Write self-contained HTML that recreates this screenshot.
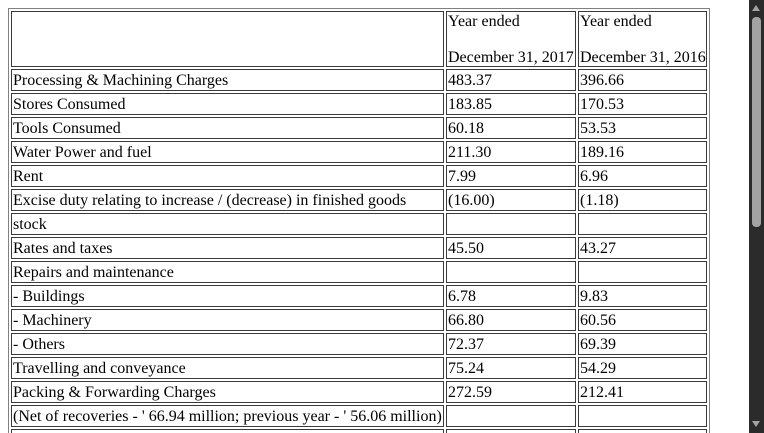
<!DOCTYPE html>
<html><head><meta charset="utf-8"><style>
html,body{margin:0;padding:0;width:764px;height:433px;overflow:hidden;background:#fff;}
body{position:relative;font-family:"Liberation Serif",serif;font-size:16px;color:#000;}
.wrap{position:absolute;left:0;top:0;width:749px;height:433px;overflow:hidden;}
table{position:absolute;left:8px;top:8px;border:1px solid #808080;border-collapse:separate;border-spacing:2px;table-layout:fixed;width:702px;}
td{border:1px solid #3a3a3a;padding:2px 1px 0 1px;box-sizing:border-box;height:22px;line-height:18px;vertical-align:top;white-space:nowrap;overflow:hidden;}
td.h{height:56px;padding:0 1px;line-height:18px;}
td.h div{position:relative;top:1px;}
.sb{position:absolute;left:749px;top:0;width:15px;height:433px;background:#2b2b2b;}
.thumb{position:absolute;left:3px;top:17px;width:9px;height:210px;background:#a3a3a3;border-radius:4px;}
.up,.dn{position:absolute;left:3px;width:0;height:0;border-left:4.5px solid transparent;border-right:4.5px solid transparent;}
.up{top:5px;border-bottom:6px solid #a3a3a3;}
.dn{top:421px;border-top:6px solid #a3a3a3;}
</style></head><body>
<div class="wrap">
<table>
<colgroup><col style="width:433px"><col style="width:130px"><col style="width:129px"></colgroup>
<tr><td class="h"></td><td class="h"><div>Year ended<br><br>December 31, 2017</div></td><td class="h"><div>Year ended<br><br>December 31, 2016</div></td></tr>
<tr><td>Processing &amp; Machining Charges</td><td>483.37</td><td>396.66</td></tr>
<tr><td>Stores Consumed</td><td>183.85</td><td>170.53</td></tr>
<tr><td>Tools Consumed</td><td>60.18</td><td>53.53</td></tr>
<tr><td>Water Power and fuel</td><td>211.30</td><td>189.16</td></tr>
<tr><td>Rent</td><td>7.99</td><td>6.96</td></tr>
<tr><td>Excise duty relating to increase / (decrease) in finished goods</td><td>(16.00)</td><td>(1.18)</td></tr>
<tr><td>stock</td><td></td><td></td></tr>
<tr><td>Rates and taxes</td><td>45.50</td><td>43.27</td></tr>
<tr><td>Repairs and maintenance</td><td></td><td></td></tr>
<tr><td>- Buildings</td><td>6.78</td><td>9.83</td></tr>
<tr><td>- Machinery</td><td>66.80</td><td>60.56</td></tr>
<tr><td>- Others</td><td>72.37</td><td>69.39</td></tr>
<tr><td>Travelling and conveyance</td><td>75.24</td><td>54.29</td></tr>
<tr><td>Packing &amp; Forwarding Charges</td><td>272.59</td><td>212.41</td></tr>
<tr><td>(Net of recoveries - ' 66.94 million; previous year - ' 56.06 million)</td><td></td><td></td></tr>
<tr><td>&nbsp;</td><td></td><td></td></tr>
</table>
</div>
<div class="sb"><div class="up"></div><div class="thumb"></div><div class="dn"></div></div>
</body></html>
